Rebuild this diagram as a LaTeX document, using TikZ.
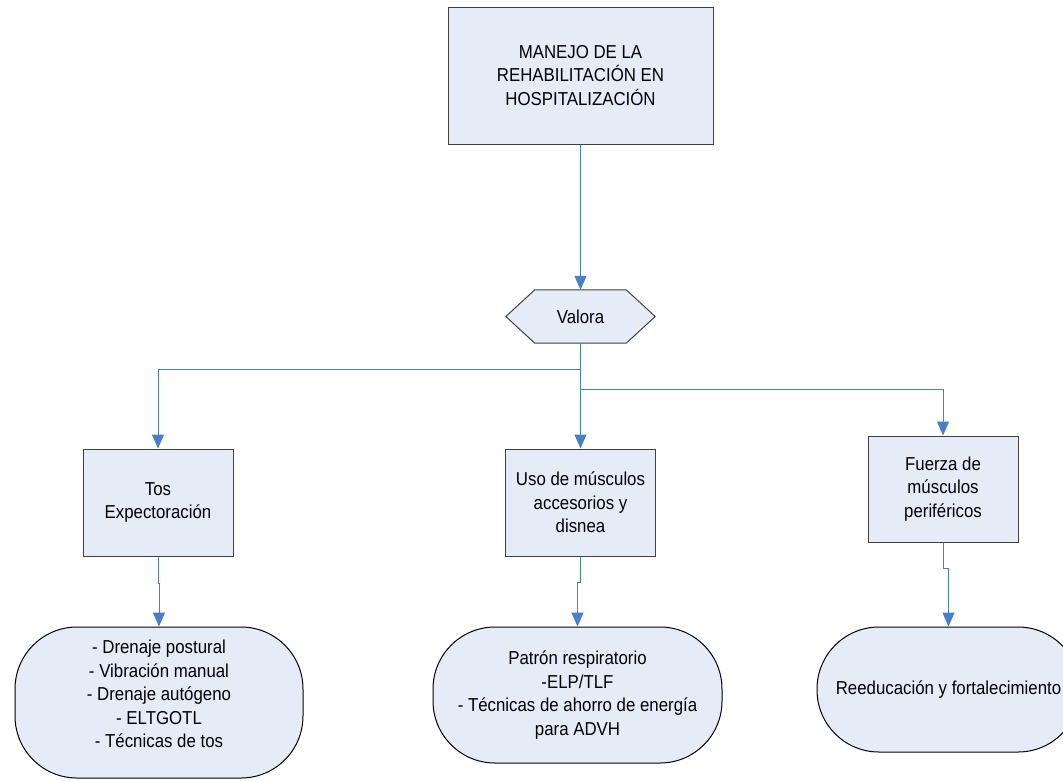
\documentclass[tikz,border=0pt]{standalone}
\usepackage{fontspec}
\setmainfont{Liberation Sans}[FakeStretch=0.9]
\usetikzlibrary{arrows.meta,calc,backgrounds}
\definecolor{boxfill}{HTML}{E6ECF7}
\definecolor{connc}{HTML}{4A7EC7}
\definecolor{edgec}{HTML}{404040}
\begin{document}
\begin{tikzpicture}[x=1pt,y=-1pt,
  txt/.style={align=center,font=\fontsize{18.7}{23.5}\selectfont},
  box/.style={txt,draw=edgec,line width=1pt,fill=boxfill,inner sep=0pt},
  term/.style={box,draw=black,rounded corners=62pt},
  conn/.style={draw=connc,line width=1pt,-{Triangle[length=14pt,width=12pt]}}]
\useasboundingbox (0,0) rectangle (1063,780);
\node[box,minimum width=265pt,minimum height=137pt] (top) at (580.5,75.5) {MANEJO DE LA\\REHABILITACIÓN EN\\HOSPITALIZACIÓN};
\node[txt,inner sep=0pt,minimum width=149pt,minimum height=53pt] (val) at (580.5,316.5) {Valora};
\begin{scope}[on background layer]
\path[fill=boxfill,draw=edgec,line width=1pt] (val.west) -- ($(val.north west)+(29,0)$) -- ($(val.north east)+(-29,0)$) -- (val.east) -- ($(val.south east)+(-29,0)$) -- ($(val.south west)+(29,0)$) -- cycle;
\end{scope}
\node[box,minimum width=150pt,minimum height=107pt] (lb) at (158,502.5) {Tos\\Expectoración};
\node[box,minimum width=150pt,minimum height=107pt] (mb) at (580.5,502.5) {Uso de músculos\\accesorios y\\disnea};
\node[box,minimum width=150pt,minimum height=106pt] (rb) at (943,489) {Fuerza de\\músculos\\periféricos};
\node[term,minimum width=288pt,minimum height=151pt] (lr) at (159,702.5) {- Drenaje postural\\- Vibración manual\\- Drenaje autógeno\\- ELTGOTL\\- Técnicas de tos\\[-6pt]\mbox{}};
\node[term,minimum width=289pt,minimum height=136pt] (mr) at (577.5,695) {Patrón respiratorio\\-ELP/TLF\\- Técnicas de ahorro de energía\\para ADVH};
\node[term,minimum width=263pt,minimum height=125pt] (rr) at (948.5,689.5) {Reeducación y fortalecimiento};
\coordinate (b1) at (580.5,369);
\coordinate (b2) at (580.5,389);
\coordinate (j1) at (159,583);
\coordinate (j2) at (577.5,582);
\coordinate (j3) at (948.5,568);
\draw[conn] (top.south) -- (val.north);
\draw[conn] (val.south) -- (b1) -| (lb.north);
\draw[conn] (val.south) -- (mb.north);
\draw[conn] (val.south) -- (b2) -| (rb.north);
\draw[conn] (lb.south) |- (j1) -- (lr.north);
\draw[conn] (mb.south) |- (j2) -- (mr.north);
\draw[conn] (rb.south) |- (j3) -- (rr.north);
\end{tikzpicture}
\end{document}
